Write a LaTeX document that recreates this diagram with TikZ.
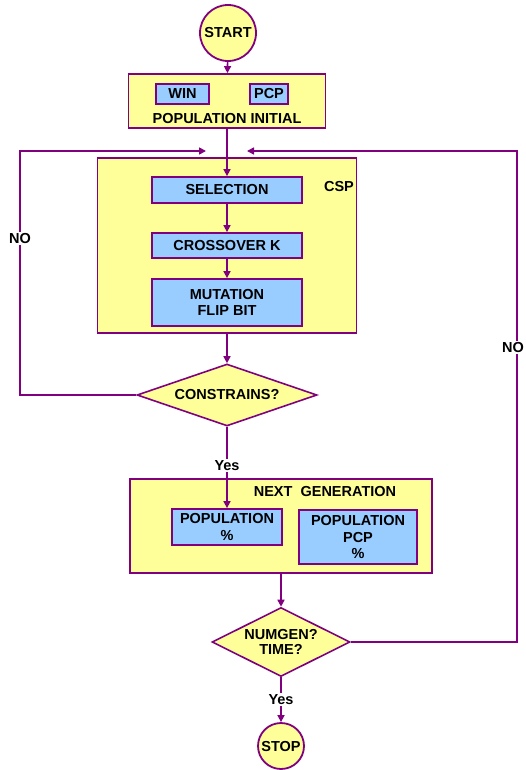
\documentclass[tikz,border=0pt]{standalone}
\usepackage{fontspec}
\setmainfont{Liberation Sans}
\usetikzlibrary{shapes.geometric,arrows.meta}
\definecolor{pur}{HTML}{800080}
\definecolor{yel}{HTML}{FFFF99}
\definecolor{blu}{HTML}{99CCFF}
\tikzset{
  every node/.style={font=\fontsize{14.5}{15.5}\selectfont\bfseries, text=black, align=center, inner sep=0pt},
  ybox/.style={draw=pur, line width=1.8pt, fill=yel, rectangle},
  bbox/.style={draw=pur, line width=1.8pt, fill=blu, rectangle},
  term/.style={draw=pur, line width=1.8pt, fill=yel, circle},
  dec/.style={draw=pur, line width=1.6pt, fill=yel, diamond},
  conn/.style={draw=pur, line width=1.6pt},
  arr/.style={conn, -{Triangle[length=7pt,width=7pt]}},
  lbl/.style={fill=white, inner sep=1.5pt}
}
\begin{document}
\begin{tikzpicture}[x=1pt,y=-1pt]
\useasboundingbox (0,0) rectangle (525,770);
% start
\node[term, minimum size=56pt] (start) at (228,33) {START};
% population initial
\node[ybox, minimum width=197pt, minimum height=54pt] (popinit) at (227,101) {};
\node[bbox, minimum width=53pt, minimum height=20pt] (win) at (182.5,94) {WIN};
\node[bbox, minimum width=38pt, minimum height=20pt] (pcp) at (269,94) {PCP};
\node (popinitlbl) at (227,119) {POPULATION INITIAL};
% CSP
\node[ybox, minimum width=259pt, minimum height=175pt] (csp) at (227,245.5) {};
\node (csplbl) at (339,187) {CSP};
\node[bbox, minimum width=150pt, minimum height=26pt] (sel) at (227,190) {SELECTION};
\node[bbox, minimum width=150pt, minimum height=25pt] (cross) at (227,245.5) {CROSSOVER K};
\node[bbox, minimum width=150pt, minimum height=47pt] (mut) at (227,302.5) {MUTATION\\FLIP BIT};
% constrains
\node[dec, minimum width=180pt, minimum height=62pt, aspect=2.9] (cons) at (227,395) {CONSTRAINS?};
% next generation
\node[ybox, minimum width=302pt, minimum height=94pt] (next) at (281,526) {};
\node (nextlbl) at (325,492) {NEXT\ \ GENERATION};
\node[bbox, minimum width=110pt, minimum height=36pt] (pop1) at (227,527) {POPULATION\\[1pt]\%};
\node[bbox, minimum width=118pt, minimum height=54pt] (pop2) at (358,537) {POPULATION\\[1pt]PCP\\[1pt]\%};
% numgen
\node[dec, minimum width=138pt, minimum height=69pt, aspect=2] (numgen) at (281,642) {NUMGEN?\\TIME?};
% stop
\node[term, minimum size=46pt] (stop) at (281,746) {STOP};
% coordinates for loops
\coordinate (lcorner) at (20,151);
\coordinate (jl) at (206,151);
\coordinate (rcorner) at (517,151);
\coordinate (jr) at (247,151);
% connectors
\draw[arr] (start) -- (popinit);
\draw[arr] (popinit) -- (sel);
\draw[arr] (sel) -- (cross);
\draw[arr] (cross) -- (mut);
\draw[arr] (csp) -- (cons);
\draw[arr] (cons.south) -- node[lbl, pos=0.48] {Yes} (pop1.north);
\draw[arr] (next.south -| numgen.north) -- (numgen.north);
\draw[arr] (numgen.south) -- node[lbl, pos=0.5] {Yes} (stop.north);
\draw[arr] (cons.west) -| node[lbl, pos=0.82] {NO} (lcorner) -- (jl);
\draw[arr] (numgen.east) -| node[lbl, pos=0.80, xshift=-4pt] {NO} (rcorner) -- (jr);
\end{tikzpicture}
\end{document}
